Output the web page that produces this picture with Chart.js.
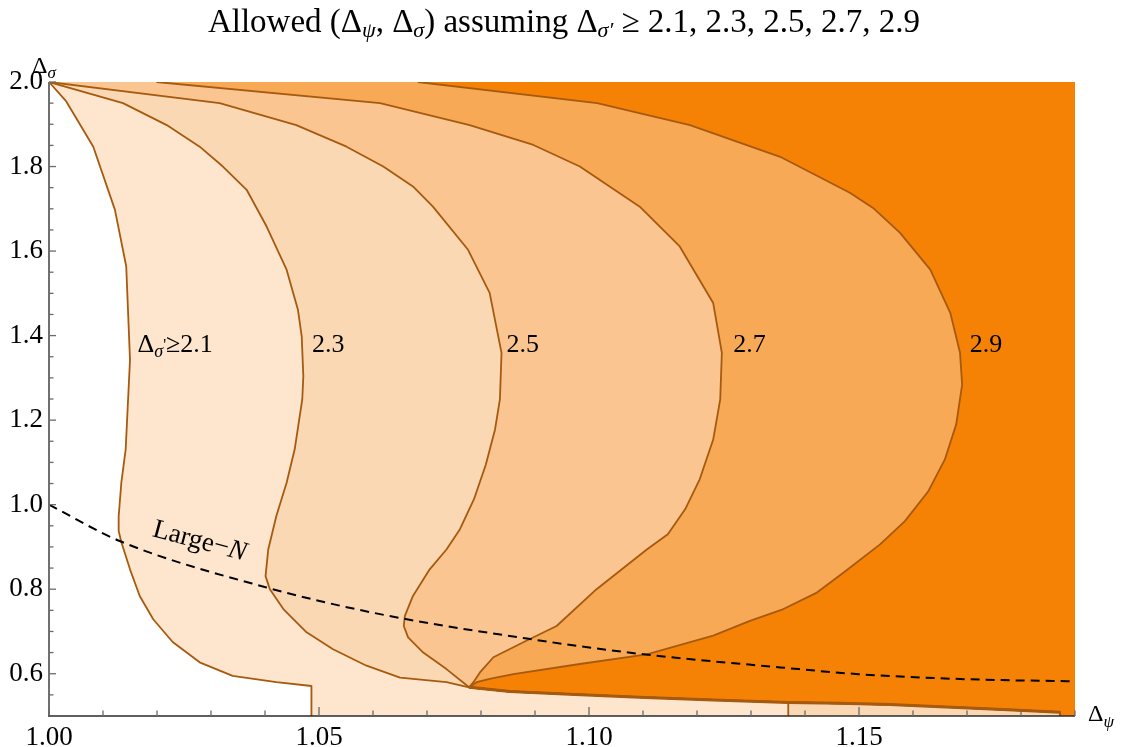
<!DOCTYPE html>
<html>
<head>
<meta charset="utf-8">
<script src="https://cdn.jsdelivr.net/npm/chart.js@4.4.1/dist/chart.umd.min.js"></script>
<style>
  html, body { margin: 0; padding: 0; background: #ffffff; }
  #wrap { width: 1123px; height: 747px; position: relative; }
</style>
</head>
<body>
<div id="wrap"><canvas id="c" width="1123" height="747"></canvas></div>
<script>
// ---------- axis ranges & ticks ----------
const xMin = 1.00, xMax = 1.19, yMin = 0.5, yMax = 2.0;
const xTickValues = [1.00, 1.05, 1.10, 1.15];
const xMinorTicks = [1.01, 1.02, 1.03, 1.04, 1.06, 1.07, 1.08, 1.09, 1.11, 1.12, 1.13, 1.14, 1.16, 1.17, 1.18, 1.19];
const yTickValues = [0.6, 0.8, 1.0, 1.2, 1.4, 1.6, 1.8, 2.0];
const yMinorTicks = [0.55, 0.65, 0.7, 0.75, 0.85, 0.9, 0.95, 1.05, 1.1, 1.15, 1.25, 1.3, 1.35, 1.45, 1.5, 1.55, 1.65, 1.7, 1.75, 1.85, 1.9, 1.95];

// ---------- contour for Δσ' ≥ 2.1 ----------
const c21x = [1.0000, 1.0032, 1.0082, 1.0122, 1.0143, 1.0150, 1.0142, 1.0134, 1.0129, 1.0129, 1.0134, 1.0150, 1.0168, 1.0193, 1.0229, 1.0279, 1.0340, 1.0421, 1.0486, 1.0486];
const c21y = [2.000, 1.954, 1.847, 1.698, 1.564, 1.343, 1.131, 1.053, 0.972, 0.938, 0.911, 0.847, 0.784, 0.729, 0.675, 0.627, 0.595, 0.580, 0.571, 0.500];
// ---------- contour for 2.3 ----------
const c23x = [1.0000, 1.0137, 1.0218, 1.0279, 1.0322, 1.0366, 1.0403, 1.0440, 1.0461, 1.0468, 1.0471, 1.0469, 1.0455, 1.0440, 1.0421, 1.0406, 1.0401, 1.0409, 1.0434, 1.0477, 1.0526, 1.0588, 1.0650, 1.0736, 1.0778];
const c23y = [2.000, 1.950, 1.898, 1.847, 1.800, 1.745, 1.658, 1.556, 1.461, 1.398, 1.304, 1.249, 1.131, 1.052, 0.973, 0.894, 0.831, 0.800, 0.753, 0.698, 0.658, 0.619, 0.591, 0.580, 0.568];
// ---------- contour for 2.5 ----------
const c25x = [1.0000, 1.0316, 1.0458, 1.0551, 1.0619, 1.0674, 1.0711, 1.0776, 1.0816, 1.0838, 1.0835, 1.0826, 1.0809, 1.0787, 1.0761, 1.0736, 1.0705, 1.0674, 1.0659, 1.0657, 1.0665, 1.0693, 1.0736, 1.0778];
const c25y = [2.000, 1.950, 1.898, 1.847, 1.800, 1.753, 1.705, 1.603, 1.501, 1.359, 1.249, 1.178, 1.095, 1.013, 0.942, 0.894, 0.847, 0.784, 0.737, 0.713, 0.686, 0.650, 0.611, 0.568];
// ---------- contour for 2.7 ----------
const c27x = [1.0199, 1.0613, 1.0779, 1.0897, 1.0983, 1.1094, 1.1168, 1.1230, 1.1246, 1.1243, 1.1230, 1.1205, 1.1178, 1.1146, 1.1107, 1.1014, 1.0940, 1.0884, 1.0823, 1.0798, 1.0786, 1.0778];
const c27y = [2.000, 1.950, 1.898, 1.851, 1.800, 1.705, 1.611, 1.477, 1.359, 1.249, 1.154, 1.060, 0.989, 0.930, 0.894, 0.800, 0.713, 0.678, 0.639, 0.603, 0.580, 0.568];
// ---------- contour for 2.9 ----------
const c29x = [1.0683, 1.1015, 1.1187, 1.1354, 1.1483, 1.1526, 1.1576, 1.1632, 1.1669, 1.1687, 1.1691, 1.1680, 1.1659, 1.1628, 1.1585, 1.1539, 1.1471, 1.1422, 1.1360, 1.1298, 1.1230, 1.1107, 1.0983, 1.0860, 1.0816, 1.0792, 1.0778];
const c29y = [2.000, 1.950, 1.898, 1.823, 1.738, 1.702, 1.643, 1.556, 1.454, 1.360, 1.284, 1.190, 1.107, 1.031, 0.961, 0.906, 0.839, 0.792, 0.753, 0.725, 0.690, 0.646, 0.623, 0.599, 0.588, 0.580, 0.568];
// ---------- common lower boundary (from the cusp) ----------
const lowX = [1.0778, 1.0854, 1.0974, 1.1104, 1.1230, 1.1369, 1.1465, 1.1557, 1.1650, 1.1756, 1.1872];
const lowY = [0.568, 0.558, 0.551, 0.544, 0.538, 0.532, 0.530, 0.527, 0.522, 0.516, 0.509];
const drop23X = 1.1369;   // where the 2.3 region drops to the axis
// ---------- Large-N curve ----------
const lnX = [1.0000, 1.0131, 1.0403, 1.0613, 1.0891, 1.1101, 1.1354, 1.1499, 1.1700, 1.1900];
const lnY = [1.000, 0.914, 0.804, 0.741, 0.682, 0.646, 0.615, 0.599, 0.587, 0.582];
// ---------- contour labels ----------
const contourLabels = ['2.3', '2.5', '2.7', '2.9'];
const contourLabelX = [1.0487, 1.0847, 1.1267, 1.1705];
const contourLabelY = 1.362;
const firstLabelX = 1.0164;
const largeNLabelX = 1.0190, largeNLabelY = 0.926;

// ---------- styling ----------
const fillColors = ['#FDE6CD', '#FAD8B3', '#FAC590', '#F7A955', '#F58105'];
const lineColor = '#A65A10';
const SERIF = '"Liberation Serif", "Times New Roman", serif';

function pts(xs, ys) { return xs.map((v, i) => ({x: v, y: ys[i]})); }
const low = pts(lowX, lowY);
const i23 = lowX.indexOf(drop23X);
const lowEnd = lowX[lowX.length - 1];

const line21 = pts(c21x, c21y);
const line23 = [...pts(c23x, c23y), ...low.slice(1, i23 + 1), {x: drop23X, y: yMin}];
const line25 = [...pts(c25x, c25y), ...low.slice(1), {x: lowEnd, y: yMin}];
const line27 = [...pts(c27x, c27y), ...low.slice(1), {x: lowEnd, y: yMin}];
const line29 = [...pts(c29x, c29y), ...low.slice(1), {x: lowEnd, y: yMin}];

const closeRight = [{x: xMax, y: yMin}, {x: xMax, y: yMax}];
const reg21 = [...line21, ...closeRight];
const reg23 = [...line23, ...closeRight];
const reg25 = [...line25, ...closeRight];
const reg27 = [...line27, ...closeRight];
const reg29 = [...line29, ...closeRight];

function area(data, color, order) {
  return {data, backgroundColor: color, borderColor: 'rgba(0,0,0,0)', borderWidth: 0,
          fill: 'shape', pointRadius: 0, order, tension: 0};
}
function curve(data, order, w) {
  return {data, borderColor: lineColor, borderWidth: w || 1.8, fill: false,
          pointRadius: 0, order, tension: 0, borderJoinStyle: 'round'};
}

function rich(ctx, x, y, parts, align) {
  let w = 0;
  parts.forEach(p => { ctx.font = (p.it ? 'italic ' : '') + p.s + 'px ' + SERIF; w += ctx.measureText(p.t).width; });
  let cx = align === 'center' ? x - w / 2 : x;
  parts.forEach(p => {
    ctx.font = (p.it ? 'italic ' : '') + p.s + 'px ' + SERIF;
    ctx.fillText(p.t, cx, y + (p.dy || 0));
    cx += ctx.measureText(p.t).width;
  });
}

const decor = {
  id: 'decor',
  afterDatasetsDraw(chart) {
    const {ctx, chartArea: a, scales: {x, y}} = chart;
    ctx.save();
    // axis lines
    ctx.lineCap = 'butt';
    ctx.strokeStyle = '#707070'; ctx.lineWidth = 2;
    ctx.beginPath(); ctx.moveTo(a.left, a.top); ctx.lineTo(a.left, a.bottom); ctx.stroke();
    ctx.strokeStyle = '#2a2a2a'; ctx.lineWidth = 1.6;
    ctx.beginPath(); ctx.moveTo(a.left - 1, a.bottom); ctx.lineTo(a.right, a.bottom); ctx.stroke();
    // inward ticks
    ctx.strokeStyle = '#6a6a6a'; ctx.lineWidth = 1.3;
    const tk = (x1, y1, x2, y2) => { ctx.beginPath(); ctx.moveTo(x1, y1); ctx.lineTo(x2, y2); ctx.stroke(); };
    xTickValues.forEach(v => { const p = x.getPixelForValue(v); tk(p, a.bottom, p, a.bottom - 9); });
    xMinorTicks.forEach(v => { const p = x.getPixelForValue(v); tk(p, a.bottom, p, a.bottom - 5.5); });
    yTickValues.forEach(v => { const p = y.getPixelForValue(v); tk(a.left, p, a.left + 7, p); });
    yMinorTicks.forEach(v => { const p = y.getPixelForValue(v); tk(a.left, p, a.left + 4.5, p); });

    // contour labels
    ctx.fillStyle = '#000';
    ctx.textBaseline = 'alphabetic';
    ctx.textAlign = 'left';
    const ly = y.getPixelForValue(contourLabelY);
    contourLabels.forEach((t, i) => {
      ctx.font = '26px ' + SERIF;
      ctx.fillText(t, x.getPixelForValue(contourLabelX[i]), ly);
    });
    rich(ctx, x.getPixelForValue(firstLabelX), ly, [
      {t: 'Δ', s: 26}, {t: 'σ', s: 18, dy: 5, it: true}, {t: "'", s: 16, dy: -2}, {t: '≥2.1', s: 26}
    ]);
    // Large-N label (rotated along the dashed curve)
    ctx.save();
    ctx.translate(x.getPixelForValue(largeNLabelX), y.getPixelForValue(largeNLabelY));
    ctx.rotate(15 * Math.PI / 180);
    rich(ctx, 0, 0, [{t: 'Large−', s: 27}, {t: 'N', s: 27, it: true}]);
    ctx.restore();
    ctx.restore();
  },
  afterDraw(chart) {
    const {ctx} = chart;
    ctx.save();
    ctx.fillStyle = '#000';
    ctx.textBaseline = 'alphabetic';
    // title
    rich(ctx, 564, 32, [
      {t: 'Allowed (Δ', s: 33}, {t: 'ψ', s: 22, dy: 5, it: true},
      {t: ', Δ', s: 33}, {t: 'σ', s: 22, dy: 5, it: true},
      {t: ') assuming Δ', s: 33}, {t: 'σ′', s: 22, dy: 5, it: true},
      {t: ' ≥ 2.1, 2.3, 2.5, 2.7, 2.9', s: 33}
    ], 'center');
    // axis labels
    rich(ctx, 32, 73, [{t: 'Δ', s: 24}, {t: 'σ', s: 17, dy: 5, it: true}]);
    rich(ctx, 1088, 721, [{t: 'Δ', s: 24}, {t: 'ψ', s: 17, dy: 6, it: true}]);
    ctx.restore();
  }
};

new Chart(document.getElementById('c'), {
  type: 'line',
  data: {
    datasets: [
      {data: pts(lnX, lnY), borderColor: '#000', borderWidth: 2, borderDash: [9, 6],
       fill: false, pointRadius: 0, order: 0, cubicInterpolationMode: 'monotone'},
      curve(low, 1, 3),
      curve(line21, 1), curve(line23, 1), curve(line25, 1), curve(line27, 1), curve(line29, 1),
      area(reg29, fillColors[4], 2),
      area(reg27, fillColors[3], 3),
      area(reg25, fillColors[2], 4),
      area(reg23, fillColors[1], 5),
      area(reg21, fillColors[0], 6)
    ]
  },
  options: {
    responsive: false,
    animation: false,
    events: [],
    devicePixelRatio: 1,
    layout: {padding: {top: 82, right: 48, left: 0, bottom: 0}},
    plugins: {legend: {display: false}, tooltip: {enabled: false}, title: {display: false}},
    scales: {
      x: {
        type: 'linear', min: xMin, max: xMax,
        grid: {display: false, drawTicks: false}, border: {display: false},
        afterBuildTicks: s => { s.ticks = xTickValues.map(v => ({value: v})); },
        afterFit: s => { s.height = 31; },
        ticks: {autoSkip: false, maxRotation: 0, padding: 6, color: '#000',
                font: {family: SERIF, size: 27},
                callback: v => Number(v).toFixed(2)}
      },
      y: {
        type: 'linear', min: yMin, max: yMax,
        grid: {display: false, drawTicks: false}, border: {display: false},
        afterBuildTicks: s => { s.ticks = yTickValues.map(v => ({value: v})); },
        afterFit: s => { s.width = 49; },
        ticks: {autoSkip: false, padding: 6, color: '#000',
                font: {family: SERIF, size: 27},
                callback: v => Number(v).toFixed(1)}
      }
    }
  },
  plugins: [decor]
});
</script>
</body>
</html>
